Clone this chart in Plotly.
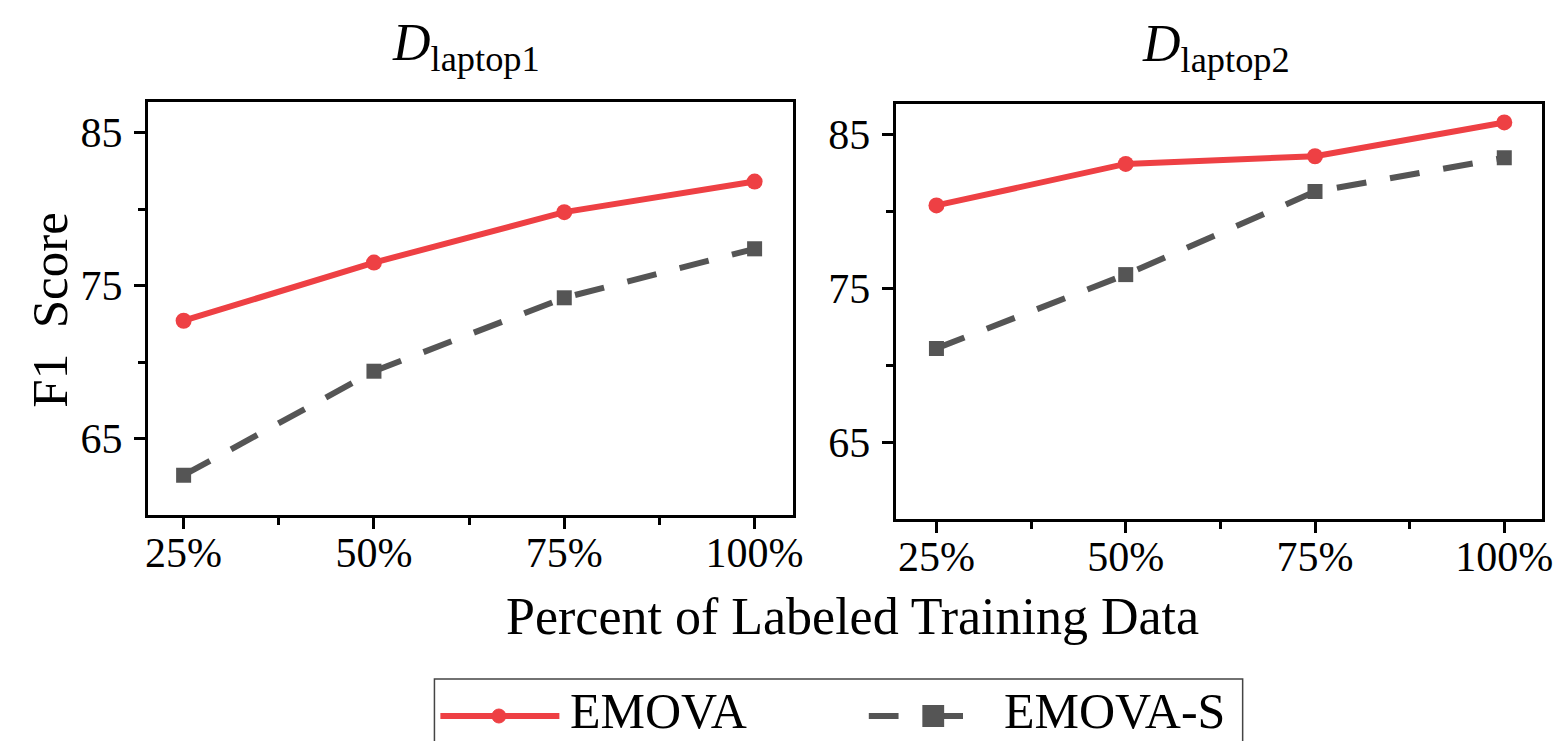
import plotly.graph_objects as go

# ---- data ----
pct = [25, 50, 75, 100]
tick_labels = ["25%", "50%", "75%", "100%"]
laptop1_emova = [72.7, 76.5, 79.8, 81.8]
laptop1_emova_s = [62.6, 69.4, 74.2, 77.4]
laptop2_emova = [80.4, 83.1, 83.6, 85.8]
laptop2_emova_s = [71.1, 75.9, 81.3, 83.5]
y_ticks = [65, 75, 85]

W, H = 1562, 741
FONT = "Liberation Serif"
RED = "#EE4044"
GRAY = "#555555"


def px(x):
    return x / W


def py(y):
    return 1 - y / H


fig = go.Figure()

panels = [
    ("x", "y", laptop1_emova, laptop1_emova_s),
    ("x2", "y2", laptop2_emova, laptop2_emova_s),
]
for xa, ya, emova, emova_s in panels:
    fig.add_trace(go.Scatter(
        x=pct, y=emova, xaxis=xa, yaxis=ya, mode="lines+markers",
        line=dict(color=RED, width=6), marker=dict(symbol="circle", size=16, color=RED),
        showlegend=False, name="EMOVA"))
    fig.add_trace(go.Scatter(
        x=pct, y=emova_s, xaxis=xa, yaxis=ya, mode="lines+markers",
        line=dict(color=GRAY, width=6, dash="30px,24px"),
        marker=dict(symbol="square", size=15, color=GRAY),
        showlegend=False, name="EMOVA-S"))


def xaxis_cfg(rng, domain, anchor):
    return dict(
        range=rng, domain=domain, anchor=anchor, tickvals=pct, ticktext=tick_labels,
        showgrid=False, zeroline=False, showline=True, linecolor="black", linewidth=3,
        mirror=True, ticks="outside", ticklen=11, tickwidth=2.5, tickcolor="black",
        ticklabelstandoff=-12,
        tickfont=dict(family=FONT, size=42, color="black"),
        minor=dict(tickvals=[37.5, 62.5, 87.5], ticks="outside", ticklen=7, tickwidth=2.5,
                   tickcolor="black", showgrid=False),
    )


def yaxis_cfg(domain, anchor):
    return dict(
        range=[60, 87], domain=domain, anchor=anchor, tickvals=y_ticks,
        showgrid=False, zeroline=False, showline=True, linecolor="black", linewidth=3,
        mirror=True, ticks="outside", ticklen=11, tickwidth=2.5, tickcolor="black",
        ticklabelstandoff=3,
        tickfont=dict(family=FONT, size=42, color="black"),
        minor=dict(tickvals=[70, 80], ticks="outside", ticklen=7, tickwidth=2.5,
                   tickcolor="black", showgrid=False),
    )


fig.update_layout(
    width=W, height=H,
    margin=dict(l=0, r=0, t=0, b=0),
    paper_bgcolor="white", plot_bgcolor="white",
    font=dict(family=FONT, color="black"),
    xaxis=xaxis_cfg([20.3, 105.1], [px(139), px(790)], "y"),
    yaxis=yaxis_cfg([py(507), py(94)], "x"),
    xaxis2=xaxis_cfg([19.6, 105.0], [px(893), px(1545)], "y2"),
    yaxis2=yaxis_cfg([py(511), py(96)], "x2"),
    showlegend=False,
)

annotations = [
    dict(text="<i>D</i><sub>laptop1</sub>", x=px(460), y=py(38), xref="paper", yref="paper",
         showarrow=False, font=dict(size=52, family=FONT), xanchor="center", yanchor="middle"),
    dict(text="<i>D</i><sub>laptop2</sub>", x=px(1216), y=py(40), xref="paper", yref="paper",
         showarrow=False, font=dict(size=52, family=FONT), xanchor="center", yanchor="middle"),
    dict(text="Percent of Labeled Training Data", x=px(850), y=py(608), xref="paper", yref="paper",
         showarrow=False, font=dict(size=52, family=FONT), xanchor="center", yanchor="middle"),
    dict(text="F1  Score", x=px(40), y=py(302), xref="paper", yref="paper", textangle=-90,
         showarrow=False, font=dict(size=51, family=FONT), xanchor="center", yanchor="middle"),
    dict(text="EMOVA", x=px(563), y=py(703), xref="paper", yref="paper",
         showarrow=False, font=dict(size=50, family=FONT), xanchor="left", yanchor="middle"),
    dict(text="EMOVA-S", x=px(1000), y=py(703), xref="paper", yref="paper",
         showarrow=False, font=dict(size=50, family=FONT), xanchor="left", yanchor="middle"),
]

shapes = [
    # legend frame
    dict(type="rect", xref="paper", yref="paper", x0=px(428), x1=px(1243), y0=py(760), y1=py(671),
         line=dict(color="#444444", width=1.5), fillcolor="rgba(0,0,0,0)"),
    # EMOVA legend sample
    dict(type="line", xref="paper", yref="paper", x0=px(434), x1=px(554), y0=py(708), y1=py(708),
         line=dict(color=RED, width=6)),
    dict(type="circle", xref="paper", yref="paper", x0=px(486), x1=px(500), y0=py(715), y1=py(701),
         line=dict(color=RED, width=1), fillcolor=RED),
    # EMOVA-S legend sample
    dict(type="line", xref="paper", yref="paper", x0=px(866), x1=px(896), y0=py(708), y1=py(708),
         line=dict(color=GRAY, width=6)),
    dict(type="line", xref="paper", yref="paper", x0=px(930), x1=px(961), y0=py(708), y1=py(708),
         line=dict(color=GRAY, width=6)),
    dict(type="rect", xref="paper", yref="paper", x0=px(920), x1=px(942), y0=py(719), y1=py(697),
         line=dict(color=GRAY, width=0), fillcolor=GRAY),
]

fig.update_layout(annotations=annotations, shapes=shapes)

fig.write_html("out.html")
